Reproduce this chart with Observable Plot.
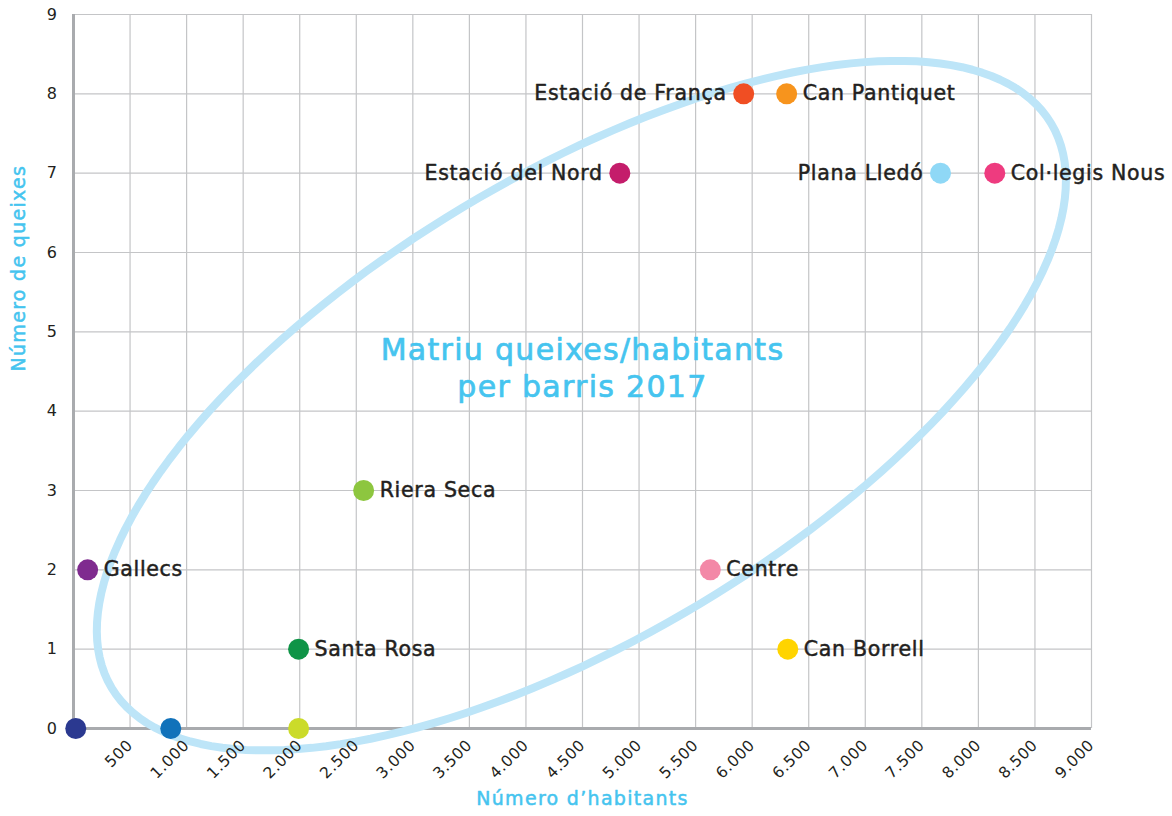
<!DOCTYPE html>
<html><head><meta charset="utf-8">
<script src="https://cdn.jsdelivr.net/npm/d3@7"></script>
<script src="https://cdn.jsdelivr.net/npm/@observablehq/plot@0.6"></script>
<style>
body{margin:0;background:#fff;}
#chart svg{display:block;}
#chart svg text{letter-spacing:0.6px;}
</style>
</head><body><div id="chart"></div>
<script>
// ---- data ----
const barris    = ["", "", "", "Gallecs", "Santa Rosa", "Riera Seca", "Centre", "Can Borrell", "Estació del Nord", "Estació de França", "Can Pantiquet", "Plana Lledó", "Col·legis Nous"];
const habitants = [20, 860, 1990, 125, 1990, 2565, 5630, 6315, 4830, 5925, 6305, 7665, 8145];
const queixes   = [0, 0, 0, 2, 1, 3, 2, 1, 7, 8, 8, 7, 7];
const colors    = ["#2b3990", "#1172ba", "#cbdb2a", "#7f2b8f", "#0f9447", "#8dc63f", "#f388a7", "#ffd400", "#c41d6b", "#f04e23", "#f7941d", "#8fd8f6", "#ee3b7f"];
const labelSide = ["right", "right", "right", "right", "right", "right", "right", "right", "left", "left", "right", "left", "right"];
const xTicks = [500, 1000, 1500, 2000, 2500, 3000, 3500, 4000, 4500, 5000, 5500, 6000, 6500, 7000, 7500, 8000, 8500, 9000];
const yTicks = [0, 1, 2, 3, 4, 5, 6, 7, 8, 9];
const titleLines = ["Matriu queixes/habitants", "per barris 2017"];
const xTitle = "Número d’habitants";
const yTitle = "Número de queixes";

// annotation ellipse (center in data units; semi-axes in screen px, angle in degrees)
const ellipseCenter = {x: 4490, y: 4.07};
const ellipseAxes = {a: 548, b: 231, angleDeg: 31};

const data = barris.map((name, i) => ({name, x: habitants[i], y: queixes[i], color: colors[i], side: labelSide[i]}));

const W = 1172, H = 816;
const mL = 73, mR = 81, mT = 14, mB = 88;
const kx = (W - mL - mR) / 9000, ky = (H - mT - mB) / 9;
const th = ellipseAxes.angleDeg * Math.PI / 180;
const ellipse = d3.range(0, 361, 2).map(deg => {
  const t = deg * Math.PI / 180;
  const px = ellipseAxes.a * Math.cos(t) * Math.cos(th) - ellipseAxes.b * Math.sin(t) * Math.sin(th);
  const py = ellipseAxes.a * Math.cos(t) * Math.sin(th) + ellipseAxes.b * Math.sin(t) * Math.cos(th);
  return {x: ellipseCenter.x + px / kx, y: ellipseCenter.y + py / ky};
});

const fmt = d3.formatLocale({decimal: ",", thousands: ".", grouping: [3], currency: ["", "€"]}).format(",");
const font = "'DejaVu Sans', sans-serif";
const ink = "#231f20", sky = "#45c4ef";

const chart = Plot.plot({
  width: W, height: H,
  marginLeft: mL, marginRight: mR, marginTop: mT, marginBottom: mB,
  style: {fontFamily: font, background: "#fff", color: ink},
  x: {domain: [0, 9000]},
  y: {domain: [0, 9]},
  color: {type: "identity"},
  marks: [
    Plot.gridX(xTicks, {stroke: "#c4c5c7", strokeOpacity: 1, strokeWidth: 1.2}),
    Plot.gridY(yTicks, {stroke: "#c4c5c7", strokeOpacity: 1, strokeWidth: 1.2}),
    Plot.ruleY([0], {stroke: "#a9abae", strokeWidth: 3}),
    Plot.ruleX([0], {stroke: "#a9abae", strokeWidth: 3}),
    Plot.line(ellipse, {x: "x", y: "y", stroke: "#bde5f8", strokeWidth: 8}),
    Plot.dot(data, {x: "x", y: "y", r: 10.5, fill: "color"}),
    Plot.text(data.filter(d => d.side === "right" && d.name), {x: "x", y: "y", text: "name", textAnchor: "start", dx: 16, fontSize: 20.5, fill: ink, stroke: ink, strokeWidth: 0.5}),
    Plot.text(data.filter(d => d.side === "left" && d.name), {x: "x", y: "y", text: "name", textAnchor: "end", dx: -17, fontSize: 20.5, fill: ink, stroke: ink, strokeWidth: 0.5}),
    Plot.axisX({ticks: xTicks, tickFormat: fmt, tickRotate: -45, tickSize: 0, tickPadding: 14, fontSize: 15.5, label: null, color: ink}),
    Plot.axisY({ticks: yTicks, tickSize: 0, tickPadding: 16, fontSize: 16, label: null, color: ink}),
    Plot.text([titleLines[0]], {frameAnchor: "middle", text: d => d, fontSize: 30, fill: sky, stroke: sky, strokeWidth: 0.7, dy: -21}),
    Plot.text([titleLines[1]], {frameAnchor: "middle", text: d => d, fontSize: 30, fill: sky, stroke: sky, strokeWidth: 0.7, dy: 16}),
    Plot.text([xTitle], {frameAnchor: "bottom", text: d => d, dy: 76, fontSize: 19, fill: sky, stroke: sky, strokeWidth: 0.5}),
    Plot.text([yTitle], {frameAnchor: "left", text: d => d, dx: -55, rotate: -90, fontSize: 19, fill: sky, stroke: sky, strokeWidth: 0.5})
  ]
});
const spacing = t => {
  if (titleLines.includes(t)) return "1.3px";
  if (t === xTitle || t === yTitle) return "1.3px";
  if (barris.includes(t)) return "0.7px";
  return "0.6px";
};
chart.querySelectorAll("text").forEach(el => {
  el.style.letterSpacing = spacing(el.textContent);
});
document.getElementById("chart").appendChild(chart);
</script>
</body></html>
